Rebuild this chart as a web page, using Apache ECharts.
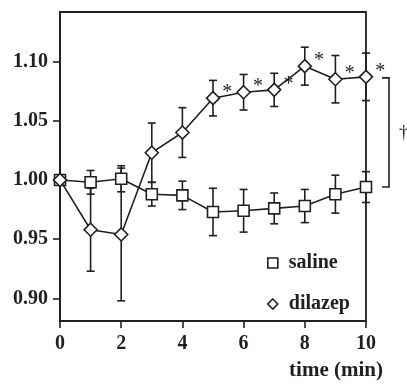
<!DOCTYPE html>
<html>
<head>
<meta charset="utf-8">
<script src="https://cdn.jsdelivr.net/npm/echarts@6/dist/echarts.min.js"></script>
<style>
  html, body { margin: 0; padding: 0; background: #fff; }
  #chart { width: 407px; height: 386px; }
</style>
</head>
<body>
<div id="chart"></div>
<script>
// Time points (min)
const times = [0, 1, 2, 3, 4, 5, 6, 7, 8, 9, 10];
// Relative values (normalised to t = 0) with error half-widths
const salineMean = [1.000, 0.998, 1.001, 0.988, 0.987, 0.973, 0.974, 0.976, 0.978, 0.988, 0.994];
const salineErr  = [0, 0.010, 0.011, 0.010, 0.012, 0.020, 0.018, 0.013, 0.014, 0.016, 0.013];
const dilazepMean = [1.000, 0.958, 0.954, 1.023, 1.040, 1.069, 1.074, 1.076, 1.096, 1.085, 1.087];
const dilazepErr  = [0, 0.035, 0.056, 0.025, 0.021, 0.015, 0.015, 0.014, 0.016, 0.020, 0.020];
// Time points marked significant for dilazep
const starredTimes = [5, 6, 7, 8, 9, 10];
// Axis tick labels
const yTicks = [0.90, 0.95, 1.00, 1.05, 1.10];
const xTicks = [0, 2, 4, 6, 8, 10];

const INK = '#231f20';
const FONT = '"Liberation Serif", "Times New Roman", serif';

function pairs(means) { return times.map((t, i) => [t, means[i]]); }
function errRows(means, errs) {
  return times.map((t, i) => [t, means[i] - errs[i], means[i] + errs[i]])
              .filter((r, i) => errs[i] > 0);
}

function renderErr(params, api) {
  const x = api.value(0);
  const lo = api.coord([x, api.value(1)]);
  const hi = api.coord([x, api.value(2)]);
  const cap = 4;
  const style = { stroke: INK, lineWidth: 1.6 };
  return {
    type: 'group',
    children: [
      { type: 'line', shape: { x1: lo[0], y1: lo[1], x2: hi[0], y2: hi[1] }, style },
      { type: 'line', shape: { x1: lo[0] - cap, y1: lo[1], x2: lo[0] + cap, y2: lo[1] }, style },
      { type: 'line', shape: { x1: hi[0] - cap, y1: hi[1], x2: hi[0] + cap, y2: hi[1] }, style }
    ]
  };
}

const chart = echarts.init(document.getElementById('chart'), null, { renderer: 'canvas' });

const option = {
  animation: false,
  backgroundColor: '#fff',
  textStyle: { fontFamily: FONT },
  grid: {
    left: 60, right: 41, top: 12, bottom: 65,
    show: true, borderColor: INK, borderWidth: 1.8, backgroundColor: 'transparent'
  },
  xAxis: {
    type: 'value', min: 0, max: 10, interval: 2,
    axisLine: { show: true, lineStyle: { color: INK, width: 1.8 } },
    axisTick: { show: true, length: 7, lineStyle: { color: INK, width: 1.6 } },
    axisLabel: {
      margin: 13, color: INK, fontSize: 20, fontWeight: 'bold', fontFamily: FONT,
      customValues: xTicks
    },
    splitLine: { show: false }
  },
  yAxis: {
    type: 'value', min: 0.881, max: 1.1417,
    axisLine: { show: true, lineStyle: { color: INK, width: 1.8 } },
    axisTick: { show: true, length: 7, lineStyle: { color: INK, width: 1.6 }, customValues: yTicks },
    axisLabel: {
      margin: 12, color: INK, fontSize: 20, fontWeight: 'bold', fontFamily: FONT,
      customValues: yTicks,
      formatter: v => v.toFixed(2)
    },
    splitLine: { show: false }
  },
  legend: {
    orient: 'vertical', left: 262, top: 248, itemGap: 21,
    itemWidth: 10, itemHeight: 10,
    textStyle: { fontFamily: FONT, fontSize: 20, fontWeight: 'bold', color: INK, padding: [0, 0, 0, 6] },
    itemStyle: { color: '#fff', borderColor: INK, borderWidth: 1.6 },
    data: [
      { name: 'saline', icon: 'rect' },
      { name: 'dilazep', icon: 'diamond' }
    ]
  },
  series: [
    {
      name: 'saline-err', type: 'custom', z: 1,
      renderItem: renderErr, data: errRows(salineMean, salineErr)
    },
    {
      name: 'dilazep-err', type: 'custom', z: 1,
      renderItem: renderErr, data: errRows(dilazepMean, dilazepErr)
    },
    {
      name: 'saline', type: 'line', z: 3, data: pairs(salineMean),
      symbol: 'rect', symbolSize: 11,
      lineStyle: { color: INK, width: 1.6 },
      itemStyle: { color: '#fff', borderColor: INK, borderWidth: 1.6 }
    },
    {
      name: 'dilazep', type: 'line', z: 4, data: pairs(dilazepMean),
      symbol: 'diamond', symbolSize: 13,
      lineStyle: { color: INK, width: 1.6 },
      itemStyle: { color: '#fff', borderColor: INK, borderWidth: 1.6 },
      label: {
        show: true, position: 'right', offset: [-3, -5],
        fontFamily: FONT, fontSize: 20, color: INK,
        formatter: p => starredTimes.includes(p.value[0]) ? '*' : ''
      }
    }
  ]
};
chart.setOption(option);

// Significance bracket between the two groups at the last time point
const last = times.length - 1;
const pTop = chart.convertToPixel({ gridIndex: 0 }, [times[last], dilazepMean[last]]);
const pBot = chart.convertToPixel({ gridIndex: 0 }, [times[last], salineMean[last]]);
const bx = pTop[0] + 23;
chart.setOption({
  graphic: [
    {
      type: 'polyline',
      shape: { points: [[bx - 7, pTop[1] + 1], [bx, pTop[1] + 1], [bx, pBot[1]], [bx - 7, pBot[1]]] },
      style: { stroke: INK, lineWidth: 1.6, fill: null }
    },
    {
      type: 'text', x: bx + 10, y: (pTop[1] + pBot[1]) / 2 + 1,
      style: { text: '†', fontFamily: FONT, fontSize: 19, fill: INK, align: 'left', verticalAlign: 'middle' }
    },
    {
      type: 'text', x: 383, y: 371,
      style: { text: 'time (min)', fontFamily: FONT, fontSize: 21, fontWeight: 'bold', fill: INK, align: 'right', verticalAlign: 'middle' }
    }
  ]
});
</script>
</body>
</html>
